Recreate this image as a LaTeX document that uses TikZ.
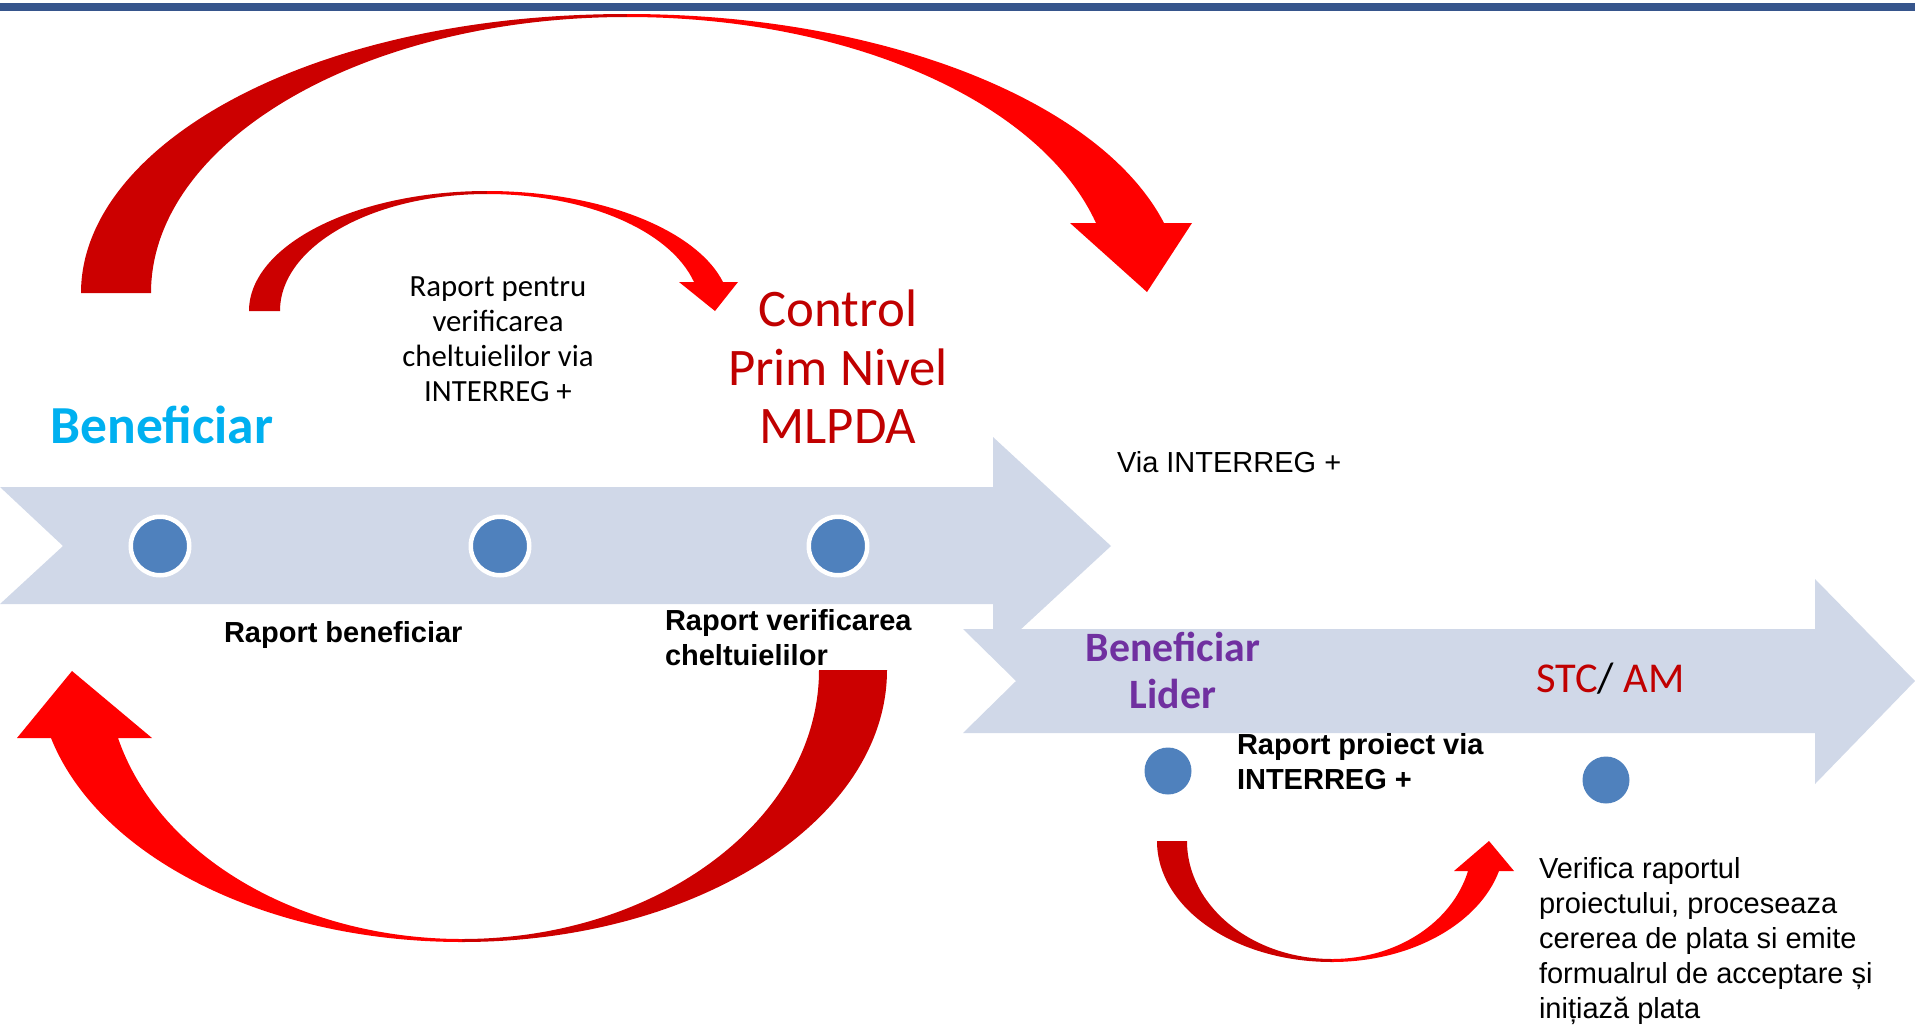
\documentclass[tikz,border=0pt]{standalone}
\usepackage{fontspec}
\setmainfont{Liberation Sans}
\newfontfamily\carlito{Carlito}
\definecolor{bandblue}{RGB}{208,216,232}
\definecolor{dotblue}{RGB}{79,129,189}
\definecolor{barblue}{RGB}{54,85,140}
\definecolor{arrowdark}{RGB}{204,0,0}
\definecolor{arrowlight}{RGB}{255,0,0}
\definecolor{titlered}{RGB}{192,0,0}
\definecolor{cyantext}{RGB}{0,176,240}
\definecolor{purpletext}{RGB}{112,48,160}
\tikzset{bluedot/.style={shape=circle, fill=dotblue, draw=white, line width=4.5pt, inner sep=0pt, outer sep=0pt, minimum size=58.5pt},
smalldot/.style={shape=circle, fill=dotblue, inner sep=0pt, outer sep=0pt, minimum size=47pt},
band/.style={fill=bandblue},
redtail/.style={fill=arrowdark},
redhead/.style={fill=arrowlight},
txt/.style={inner sep=0pt, outer sep=0pt},
bodytxt/.style={txt, font=\fontsize{29pt}{35pt}\selectfont},
boldtxt/.style={txt, font=\bfseries\fontsize{29pt}{35pt}\selectfont}}
\begin{document}
\begin{tikzpicture}[x=1pt,y=-1pt]
\useasboundingbox (0,0) rectangle (1915,1026);
\fill[barblue] (0,3) rectangle (1915,11);
\fill[band] (963,629) -- (1815,629) -- (1815,579) -- (1915,681) -- (1815,784) -- (1815,733) -- (963,733) -- (1016,681) -- cycle;
\fill[band] (0,487) -- (993,487) -- (993,437) -- (1111,546) -- (993,655) -- (993,604) -- (0,604) -- (63,546) -- cycle;
\foreach \x [count=\i] in {160,500,838}
{
	\node[bluedot] (d\i) at (\x,546) {} ;
}
\node[smalldot] (d4) at (1168,771) {} ;
\node[smalldot] (d5) at (1606,780) {} ;

\fill[redtail] (81,293) .. controls (81,145) and (310,14) .. (627,14) -- (627,17) .. controls (364,17) and (151,141) .. (151,293) -- cycle;
\fill[redhead] (627,14) .. controls (880,14) and (1100,100) .. (1164,223) -- (1192,223) -- (1147,292) -- (1070,223) -- (1096,223) .. controls (1040,101) and (848,17) .. (627,17) -- cycle;

\fill[redtail] (249,311) .. controls (249,245) and (356,191) .. (487,191) -- (487,194) .. controls (373,194) and (280,246) .. (280,311) -- cycle;
\fill[redhead] (487,191) .. controls (599,191) and (696,229) .. (723,282) -- (738,282) -- (715,311) -- (679,282) -- (694,282) .. controls (670,230) and (585,194) .. (487,194) -- cycle;

\fill[redtail] (887,670) .. controls (887,820) and (697,942) .. (462,942) -- (462,939) .. controls (659,939) and (819,818) .. (819,670) -- cycle;
\fill[redhead] (462,942) .. controls (268,942) and (99,858) .. (51,738) -- (17,738) -- (72,671) -- (152,738) -- (118,738) .. controls (159,857) and (300,939) .. (462,939) -- cycle;

\fill[redtail] (1157,841) .. controls (1157,908) and (1235,962) .. (1332,962) -- (1332,959) .. controls (1252,959) and (1187,906) .. (1187,841) -- cycle;
\fill[redhead] (1332,962) .. controls (1411,962) and (1479,924) .. (1499,871) -- (1514,871) -- (1489,841) -- (1454,871) -- (1468,871) .. controls (1452,923) and (1396,959) .. (1332,959) -- cycle;

\node[txt, anchor=base, text=cyantext, font=\carlito\bfseries\fontsize{53.5pt}{58.5pt}\selectfont] (benef) at (162,443) {Beneficiar};
\node[txt, anchor=north, align=center, font=\carlito\fontsize{30.8pt}{35pt}\selectfont] (raportPentru) at (498,277) {Raport pentru\\verificarea\\cheltuielilor via\\INTERREG +};
\node[txt, anchor=north, align=center, text=titlered, font=\carlito\fontsize{52.8pt}{58.5pt}\selectfont] (control) at (838,290) {Control\\Prim Nivel\\MLPDA};
\node[bodytxt, anchor=base west] (viaInterreg) at (1117,472) {Via INTERREG +};
\node[boldtxt, anchor=base west] (raportBenef) at (224,642) {Raport beneficiar};
\node[boldtxt, anchor=north west, align=left] (raportVerif) at (665,609) {Raport verificarea\\cheltuielilor};
\node[txt, anchor=north, align=center, text=purpletext, font=\carlito\bfseries\fontsize{41.8pt}{47pt}\selectfont] (benefLider) at (1173,632) {Beneficiar\\Lider};
\node[txt, anchor=base west, font=\carlito\fontsize{42.5pt}{47pt}\selectfont] (stcAm) at (1536,692) {\textcolor{titlered}{STC}/ \textcolor{titlered}{AM}};
\node[boldtxt, anchor=north west, align=left] (raportProiect) at (1237,733) {Raport proiect via\\INTERREG +};
\node[bodytxt, anchor=north west, align=left, font=\fontsize{29pt}{35.2pt}\selectfont] (verifica) at (1539,857) {Verifica raportul\\proiectului, proceseaza\\cererea de plata si emite\\formualrul de acceptare și\\inițiază plata};
\end{tikzpicture}
\end{document}
